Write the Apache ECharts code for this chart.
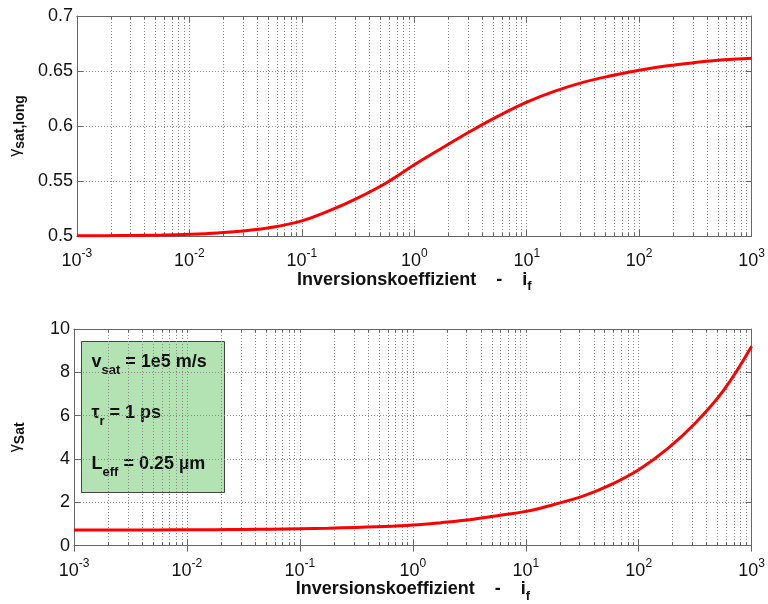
<!DOCTYPE html>
<html>
<head>
<meta charset="utf-8">
<script src="https://cdn.jsdelivr.net/npm/echarts@6/dist/echarts.min.js"></script>
<style>
  html, body { margin: 0; padding: 0; background: #fff; }
  #chart { width: 768px; height: 604px; }
</style>
</head>
<body>
<div id="chart"></div>
<script>
// Inversion coefficient i_f, sampled at quarter decades (log scale)
const inversionCoeff = [
  0.001, 0.00178, 0.00316, 0.00562,
  0.01, 0.0178, 0.0316, 0.0562,
  0.1, 0.178, 0.316, 0.562,
  1, 1.78, 3.16, 5.62,
  10, 17.8, 31.6, 56.2,
  100, 178, 316, 562,
  1000
];
// gamma_sat,long
const gammaSatLong = [
  0.5002, 0.5003, 0.5005, 0.5009,
  0.5016, 0.5028, 0.5048, 0.5082,
  0.5137, 0.5232, 0.5347, 0.5482,
  0.5647, 0.5802, 0.5952, 0.6092,
  0.6217, 0.6317, 0.6397, 0.6457,
  0.6507, 0.6547, 0.6577, 0.6602,
  0.6617
];
// gamma_Sat
const gammaSat = [
  0.72, 0.72, 0.722, 0.725,
  0.73, 0.735, 0.745, 0.76,
  0.78, 0.80, 0.84, 0.88,
  0.95, 1.06, 1.19, 1.38,
  1.58, 1.90, 2.27, 2.80,
  3.50, 4.45, 5.65, 7.15,
  9.20
];

// Decade ticks and the 2..9 intermediate ticks of the log axis
const decadeTicks = [0.001, 0.01, 0.1, 1, 10, 100, 1000];
const minorTicks = [];
for (let e = -3; e < 3; e++) {
  for (let k = 2; k <= 9; k++) minorTicks.push(Number((k * Math.pow(10, e)).toPrecision(6)));
}
const allTicks = decadeTicks.concat(minorTicks).sort((a, b) => a - b);

const FONT = '"Liberation Sans", Arial, sans-serif';
const FRAME = '#666';
const GRIDLINE = { show: true, lineStyle: { color: '#8a8a8a', width: 1, type: [1, 2] } };

const grids = [
  { left: 74, top: 16, width: 680, height: 220 },
  { left: 74, top: 329, width: 680, height: 220 }
];

function xAxesFor(gi) {
  const base = {
    type: 'log', logBase: 10, min: 0.001, max: 1000, gridIndex: gi,
    axisLine: { show: true, onZero: false, lineStyle: { color: FRAME, width: 1 } },
    splitLine: { show: false }, axisLabel: { show: false }
  };
  return [
    Object.assign({}, base, {
      position: 'bottom',
      axisTick: { show: true, inside: true, length: 3, customValues: allTicks, lineStyle: { color: FRAME } },
      splitLine: GRIDLINE,
      axisLabel: {
        show: true, customValues: decadeTicks, margin: 12,
        formatter: v => '{b|10}{s|' + Math.round(Math.log10(v)) + '}',
        rich: {
          b: { fontFamily: FONT, fontSize: 18, color: '#111' },
          s: { fontFamily: FONT, fontSize: 12, color: '#111', padding: [0, 0, 14, 0] }
        }
      },
      name: '{t|Inversionskoeffizient    -    i}{s|f}',
      nameLocation: 'middle', nameGap: 29,
      nameTextStyle: {
        rich: {
          t: { fontFamily: FONT, fontSize: 18, fontWeight: 'bold', color: '#111' },
          s: { fontFamily: FONT, fontSize: 13, fontWeight: 'bold', color: '#111', padding: [14, 0, 0, 0] }
        }
      }
    }),
    Object.assign({}, base, {
      position: 'top',
      axisTick: { show: true, inside: true, length: 3, customValues: allTicks, lineStyle: { color: FRAME } }
    }),
    Object.assign({}, base, {
      position: 'bottom', axisLine: { show: false },
      axisTick: { show: true, inside: true, length: 6, customValues: decadeTicks, lineStyle: { color: FRAME } }
    }),
    Object.assign({}, base, {
      position: 'top', axisLine: { show: false },
      axisTick: { show: true, inside: true, length: 6, customValues: decadeTicks, lineStyle: { color: FRAME } }
    })
  ];
}

function yAxesFor(gi, min, max, interval, nameRich) {
  return [
    {
      type: 'value', gridIndex: gi, min, max, interval, position: 'left',
      axisLine: { show: true, onZero: false, lineStyle: { color: FRAME, width: 1 } },
      axisTick: { show: true, inside: true, length: 6, lineStyle: { color: FRAME } },
      splitLine: GRIDLINE,
      axisLabel: { fontFamily: FONT, fontSize: 18, color: '#111', margin: 4 },
      name: nameRich.text, nameLocation: 'middle', nameRotate: 90, nameGap: 47,
      nameTextStyle: { rich: nameRich.rich }
    },
    {
      type: 'value', gridIndex: gi, min, max, interval, position: 'right',
      axisLine: { show: true, onZero: false, lineStyle: { color: FRAME, width: 1 } },
      axisTick: { show: true, inside: true, length: 6, lineStyle: { color: FRAME } },
      splitLine: { show: false }, axisLabel: { show: false }
    }
  ];
}

const yNameRich = {
  g: { fontFamily: FONT, fontSize: 16, color: '#111' },
  s: { fontFamily: FONT, fontSize: 14, fontWeight: 'bold', color: '#111', padding: [8, 0, 0, 0] }
};

const chart = echarts.init(document.getElementById('chart'), null, { renderer: 'canvas' });

const lineSeries = (xi, yi, values) => ({
  type: 'line', xAxisIndex: xi, yAxisIndex: yi,
  data: inversionCoeff.map((x, i) => [x, values[i]]),
  showSymbol: false, smooth: 0.4,
  lineStyle: { color: '#ff0000', width: 3 }, itemStyle: { color: '#ff0000' }
});

const subRich = {
  m: { fontFamily: FONT, fontSize: 18, fontWeight: 'bold', fill: '#111' },
  s: { fontFamily: FONT, fontSize: 13, fontWeight: 'bold', fill: '#111', padding: [16, 0, 0, 0] }
};

const option = {
  animation: false,
  backgroundColor: '#fff',
  grid: grids,
  xAxis: xAxesFor(0).concat(xAxesFor(1)),
  yAxis: yAxesFor(0, 0.5, 0.7, 0.05, { text: '{g|γ}{s|sat,long}', rich: yNameRich })
    .concat(yAxesFor(1, 0, 10, 2, { text: '{g|γ}{s|Sat}', rich: yNameRich })),
  series: [
    lineSeries(0, 0, gammaSatLong),
    lineSeries(4, 2, gammaSat)
  ],
  graphic: [
    {
      type: 'group', left: 81, top: 341,
      children: [
        { type: 'rect', shape: { x: 0, y: 0, width: 143, height: 151 },
          style: { fill: '#b3e3b3', stroke: '#444', lineWidth: 1 } },
        { type: 'text', x: 10, y: 21,
          style: { text: '{m|v}{s|sat}{m| = 1e5 m/s}', verticalAlign: 'middle', rich: subRich } },
        { type: 'text', x: 10, y: 72,
          style: { text: '{m|τ}{s|r}{m| = 1 ps}', verticalAlign: 'middle', rich: subRich } },
        { type: 'text', x: 10, y: 123,
          style: { text: '{m|L}{s|eff}{m| = 0.25 µm}', verticalAlign: 'middle', rich: subRich } }
      ]
    }
  ]
};

chart.setOption(option);
</script>
</body>
</html>
